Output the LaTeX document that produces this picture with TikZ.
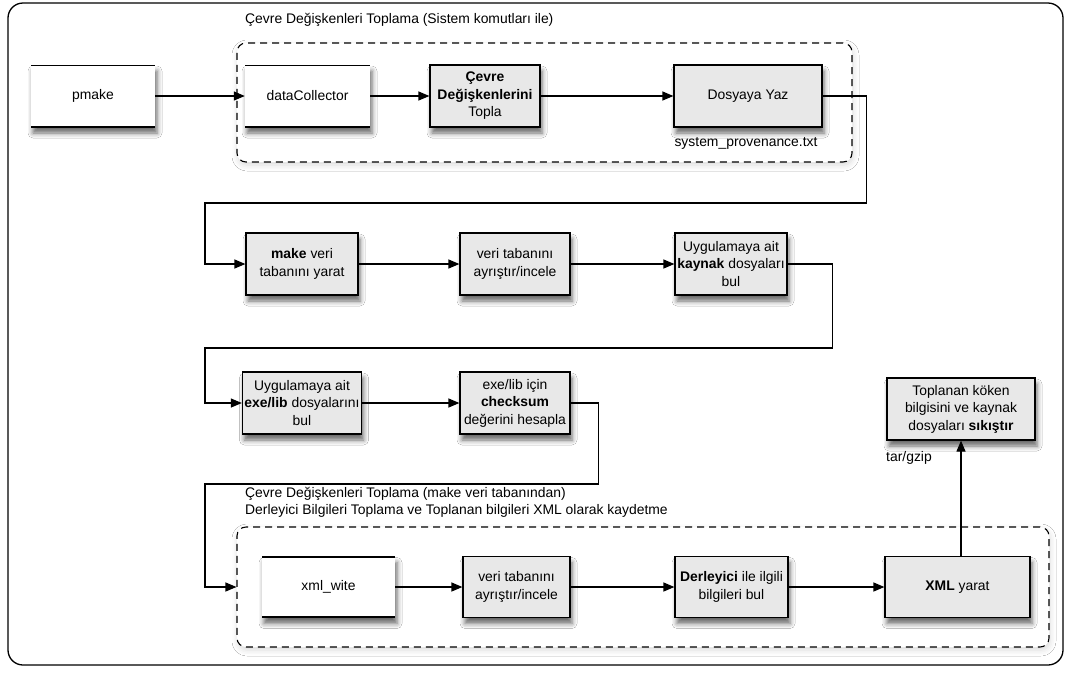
\documentclass[tikz,border=0pt]{standalone}
\usepackage{fontspec}
\setmainfont{Liberation Sans}
\usetikzlibrary{arrows.meta,shadows.blur}
\definecolor{boxgray}{HTML}{E8E8E8}
\begin{document}
\begin{tikzpicture}[x=1pt,y=-1pt,
  font=\fontsize{13.9}{17.5}\selectfont,
  softshadow/.style={blur shadow={shadow xshift=2pt,shadow yshift=-6pt,shadow blur radius=5pt,shadow opacity=60}},
  graybox/.style={draw,line width=1.2pt,fill=boxgray,align=center,inner sep=2pt,softshadow},
  whitebox/.style={fill=white,align=center,inner sep=2pt,softshadow,
    path picture={\draw[line width=2.4pt]
      (path picture bounding box.north west) -- (path picture bounding box.north east)
      (path picture bounding box.south west) -- (path picture bounding box.south east);}},
  groupbox/.style={draw,dash pattern=on 7pt off 5pt,line width=1.1pt,rounded corners=9pt,
    blur shadow={shadow xshift=1pt,shadow yshift=-3pt,shadow blur radius=6pt,shadow opacity=15},fill=white},
  arr/.style={line width=1.2pt,-{Triangle[length=11pt,width=9pt]}},
  lbl/.style={inner sep=0pt}
]
\useasboundingbox (0,0) rectangle (1070,673);
% outer frame
\draw[line width=1.3pt,rounded corners=15pt,fill=white] (8,3) rectangle (1063,665);

% dashed groups
\node[groupbox,minimum width=615pt,minimum height=119pt] (grp1) at (544.5,102.5) {};
\node[groupbox,minimum width=812pt,minimum height=120pt] (grp2) at (643,587) {};
\node[lbl,anchor=west] (grp1lbl) at (245,20) {Çevre Değişkenleri Toplama (Sistem komutları ile)};
\node[lbl,anchor=north west,align=left] (grp2lbl) at (245,487)
  {Çevre Değişkenleri Toplama (make veri tabanından)\\Derleyici Bilgileri Toplama ve Toplanan bilgileri XML olarak kaydetme};

% row 1
\node[whitebox,minimum width=124pt,minimum height=62pt] (pmake) at (93,96) {pmake};
\node[whitebox,minimum width=125pt,minimum height=62pt] (dc) at (307.5,96) {dataCollector};
\node[graybox,minimum width=110pt,minimum height=62pt] (cevre) at (485,96) {\textbf{Çevre}\\\textbf{Değişkenlerini}\\Topla};
\node[graybox,minimum width=148pt,minimum height=62pt] (dosya) at (748,96) {Dosyaya Yaz};
\node[lbl] (sysprov) at (746,143) {system\_provenance.txt};

% row 2
\node[graybox,minimum width=112pt,minimum height=62pt] (make) at (302,264) {\textbf{make} veri\\tabanını yarat};
\node[graybox,minimum width=110pt,minimum height=62pt] (ayr1) at (515,264) {veri tabanını\\ayrıştır/incele};
\node[graybox,minimum width=112pt,minimum height=62pt] (kaynak) at (731,264) {Uygulamaya ait\\\textbf{kaynak} dosyaları\\bul};

% row 3
\node[graybox,minimum width=112pt,minimum height=62pt] (exelib) at (302,403) {Uygulamaya ait\\\textbf{exe/lib} dosyalarını\\bul};
\node[graybox,minimum width=110pt,minimum height=62pt] (checks) at (515,403) {exe/lib için\\\textbf{checksum}\\değerini hesapla};

% row 4
\node[whitebox,minimum width=133pt,minimum height=61pt] (xmlw) at (328.5,587) {xml\_wite};
\node[graybox,minimum width=107pt,minimum height=61pt] (ayr2) at (516.5,587) {veri tabanını\\ayrıştır/incele};
\node[graybox,minimum width=113pt,minimum height=61pt] (derl) at (731.5,587) {\textbf{Derleyici} ile ilgili\\bilgileri bul};
\node[graybox,minimum width=145pt,minimum height=61pt] (xmly) at (957.5,587) {\textbf{XML} yarat};

% archive step
\node[graybox,minimum width=148pt,minimum height=62pt] (sikis) at (961,409) {Toplanan köken\\bilgisini ve kaynak\\dosyaları \textbf{sıkıştır}};
\node[lbl,anchor=west] (tar) at (886,458) {tar/gzip};

% connectors
\draw[arr] (pmake.east) -- (dc.west);
\draw[arr] (dc.east) -- (cevre.west);
\draw[arr] (cevre.east) -- (dosya.west);
\draw[arr] (dosya.east) -- ++(44,0) |- (205,203) |- (make.west);
\draw[arr] (make.east) -- (ayr1.west);
\draw[arr] (ayr1.east) -- (kaynak.west);
\draw[arr] (kaynak.east) -- ++(45,0) |- (205,348) |- (exelib.west);
\draw[arr] (exelib.east) -- (checks.west);
\draw[arr] (checks.east) -- ++(28,0) |- (205,484) |- (grp2.west |- xmlw.west);
\draw[arr] (xmlw.east) -- (ayr2.west);
\draw[arr] (ayr2.east) -- (derl.west);
\draw[arr] (derl.east) -- (xmly.west);
\draw[arr] (xmly.north -| sikis.south) -- (sikis.south);
\end{tikzpicture}
\end{document}
